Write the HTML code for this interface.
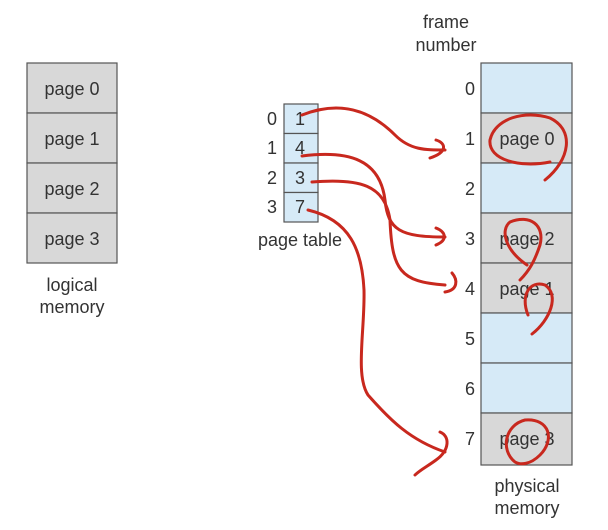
<!DOCTYPE html>
<html><head><style>
body{margin:0;background:#fff;}
svg{display:block;font-family:"Liberation Sans",sans-serif;}
</style></head><body>
<svg width="608" height="530" viewBox="0 0 608 530">
<g stroke="#555" stroke-width="1.2">
<rect x="27" y="63" width="90" height="50" fill="#d8d8d8"/>
<rect x="27" y="113" width="90" height="50" fill="#d8d8d8"/>
<rect x="27" y="163" width="90" height="50" fill="#d8d8d8"/>
<rect x="27" y="213" width="90" height="50" fill="#d8d8d8"/>
<rect x="284" y="104" width="34" height="29.5" fill="#d6eaf7"/>
<rect x="284" y="133.5" width="34" height="29.5" fill="#d6eaf7"/>
<rect x="284" y="163" width="34" height="29.5" fill="#d6eaf7"/>
<rect x="284" y="192.5" width="34" height="29.5" fill="#d6eaf7"/>
<rect x="481" y="63" width="91" height="50" fill="#d6eaf7"/>
<rect x="481" y="113" width="91" height="50" fill="#d8d8d8"/>
<rect x="481" y="163" width="91" height="50" fill="#d6eaf7"/>
<rect x="481" y="213" width="91" height="50" fill="#d8d8d8"/>
<rect x="481" y="263" width="91" height="50" fill="#d8d8d8"/>
<rect x="481" y="313" width="91" height="50" fill="#d6eaf7"/>
<rect x="481" y="363" width="91" height="50" fill="#d6eaf7"/>
<rect x="481" y="413" width="91" height="52" fill="#d8d8d8"/>
</g>
<g fill="#333" font-size="18" text-anchor="middle">
<text x="72" y="95">page 0</text><text x="72" y="145">page 1</text>
<text x="72" y="195">page 2</text><text x="72" y="245">page 3</text>
<text x="72" y="291">logical</text><text x="72" y="313">memory</text>
<text x="300" y="125">1</text><text x="300" y="154">4</text>
<text x="300" y="184">3</text><text x="300" y="213">7</text>
<text x="272" y="125">0</text><text x="272" y="154">1</text>
<text x="272" y="184">2</text><text x="272" y="213">3</text>
<text x="300" y="246">page table</text>
<text x="446" y="28">frame</text><text x="446" y="51">number</text>
<text x="470" y="95">0</text><text x="470" y="145">1</text><text x="470" y="195">2</text>
<text x="470" y="245">3</text><text x="470" y="295">4</text><text x="470" y="345">5</text>
<text x="470" y="395">6</text><text x="470" y="445">7</text>
<text x="527" y="145">page 0</text><text x="527" y="245">page 2</text>
<text x="527" y="295">page 1</text><text x="527" y="445">page 3</text>
<text x="527" y="492">physical</text><text x="527" y="514">memory</text>
</g>
<g fill="none" stroke="#c8281e" stroke-width="3" stroke-linecap="round">
<path d="M302 115 C340 100 370 110 395 135 C410 150 425 150 445 150"/>
<path d="M436 140 C446 143 448 152 430 158"/>
<path d="M302 156 C350 150 380 160 385 200 C388 230 400 237 445 237"/>
<path d="M436 228 C446 232 448 240 436 245"/>
<path d="M312 182 C360 178 385 185 390 220 C392 270 400 282 445 285"/>
<path d="M452 273 C458 280 458 290 445 292"/>
<path d="M308 210 C350 220 362 250 364 290 C365 330 355 375 368 395 C390 420 410 440 445 452"/>
<path d="M440 432 C450 436 450 450 436 460 C428 466 420 470 415 475"/>
<path d="M545 180 C570 160 575 130 550 118 C525 110 495 118 490 140 C488 160 520 168 550 162"/>
<path d="M527 265 C505 250 500 230 510 222 C530 214 545 225 540 245 C535 260 530 270 520 280"/>
<path d="M532 334 C550 320 560 295 545 285 C530 280 520 295 528 315"/>
<path d="M515 462 C500 450 505 425 525 420 C550 418 555 440 540 455 C530 465 520 465 515 462"/>
</g>
</svg>
</body></html>
